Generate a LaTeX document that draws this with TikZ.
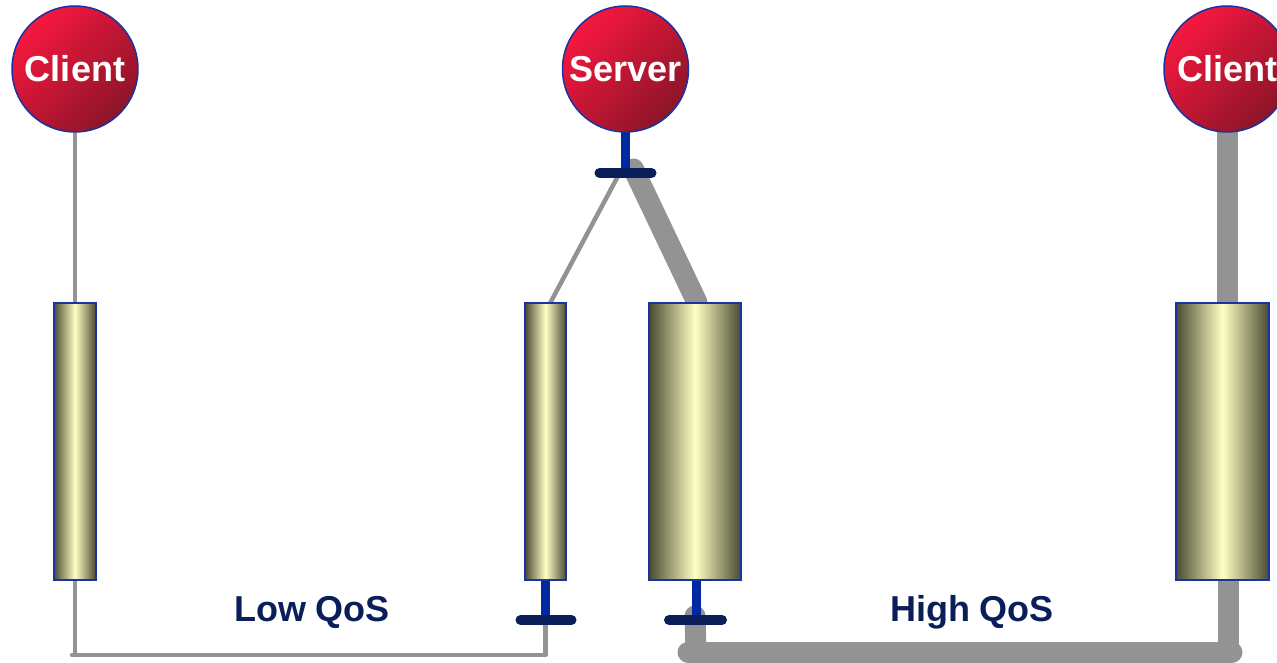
\documentclass[tikz,border=0pt]{standalone}
\usepackage{fontspec}
\setmainfont{Liberation Sans}
\pgfdeclarelayer{wires}
\pgfdeclarelayer{stems}
\pgfsetlayers{wires,stems,main}

\definecolor{wire}{HTML}{939393}
\definecolor{stem}{HTML}{0028A0}
\definecolor{navy}{HTML}{0A1E5A}
\definecolor{rimblue}{HTML}{1A33A0}
\definecolor{redhi}{HTML}{F6173F}
\definecolor{redlo}{HTML}{8C1528}
\definecolor{olive}{HTML}{4A4A32}
\definecolor{cream}{HTML}{FFFFC4}

\tikzset{
  host/.style={circle, minimum size=126pt, inner sep=0pt, draw=rimblue,
    line width=1.5pt, top color=redhi, bottom color=redlo, shading angle=45,
    text=white, font=\bfseries\fontsize{36}{40}\selectfont},
  queue/.style={rectangle, draw=rimblue, line width=1.2pt, left color=olive,
    right color=olive, middle color=cream, minimum height=277pt, inner sep=0pt},
  thinwire/.style={draw=wire, line width=4.5pt, line cap=round, line join=round},
  fatwire/.style={draw=wire, line width=21pt, line cap=round, line join=round},
  stemline/.style={draw=stem, line width=9pt},
  crossbar/.style={draw=navy, line width=10pt, line cap=round},
  qos/.style={text=navy, font=\bfseries\fontsize{36}{40}\selectfont}
}

\begin{document}
\begin{tikzpicture}[x=1pt, y=-1pt]
  \clip (0,0) rectangle (1277,663);

  % hosts
  \node[host] (c1)  at (75,69)     {Client};
  \node[host] (srv) at (625.5,69)  {Server};
  \node[host] (c2)  at (1227,69)   {Client};

  % queues
  \node[queue, minimum width=42pt] (q1) at (75,441.5)    {};
  \node[queue, minimum width=41pt] (q2) at (545.5,441.5) {};
  \node[queue, minimum width=92pt] (q3) at (695,441.5)   {};
  \node[queue, minimum width=93pt] (q4) at (1222.5,441.5) {};

  % junction points
  \coordinate (sJ)    at (625.5,173);
  \coordinate (lowJ)  at (545.5,620);
  \coordinate (highJ) at (696,620);
  \coordinate (lowB)  at (545.5,655);
  \coordinate (lowL)  at (72,655);
  \coordinate (highL) at (688,652);
  \coordinate (highR) at (1232,652);

  \begin{pgfonlayer}{wires}
    % low QoS path
    \draw[thinwire] (c1.south) -- (q1.north);
    \draw[thinwire] ([xshift=-8pt, yshift=-4pt]sJ) -- ([xshift=5pt]q2.north);
    \draw[thinwire] (q1.south) -- (q1.south |- lowB);
    \draw[thinwire] (lowL) -- (lowB) -- (lowJ);
    % high QoS path
    \draw[fatwire] ([xshift=8pt, yshift=4pt]sJ) -- ([xshift=2pt]q3.north);
    \draw[fatwire] (c2.south) -- (c2.south |- q4.north);
    \draw[fatwire] ([xshift=-1pt, yshift=4pt]highJ) -- (highJ |- highL);
    \draw[fatwire] (highL) -- (highR);
    \draw[fatwire] ([xshift=5.5pt]q4.south) -- ([xshift=-4pt]highR);
  \end{pgfonlayer}

  \begin{pgfonlayer}{stems}
    \draw[stemline] ([yshift=8pt]srv.south) -- (sJ);
    \draw[crossbar] ([xshift=-26pt]sJ) -- ([xshift=26pt]sJ);
    \draw[stemline] (q2.south) -- (lowJ);
    \draw[crossbar] ([xshift=-25pt]lowJ) -- ([xshift=26pt]lowJ);
    \draw[stemline] ([xshift=1pt]q3.south) -- (highJ);
    \draw[crossbar] ([xshift=-27pt]highJ) -- ([xshift=26pt]highJ);
  \end{pgfonlayer}

  % labels
  \node[qos] (lowlbl)  at (312,612) {Low QoS};
  \node[qos] (highlbl) at (972,612) {High QoS};
\end{tikzpicture}
\end{document}
